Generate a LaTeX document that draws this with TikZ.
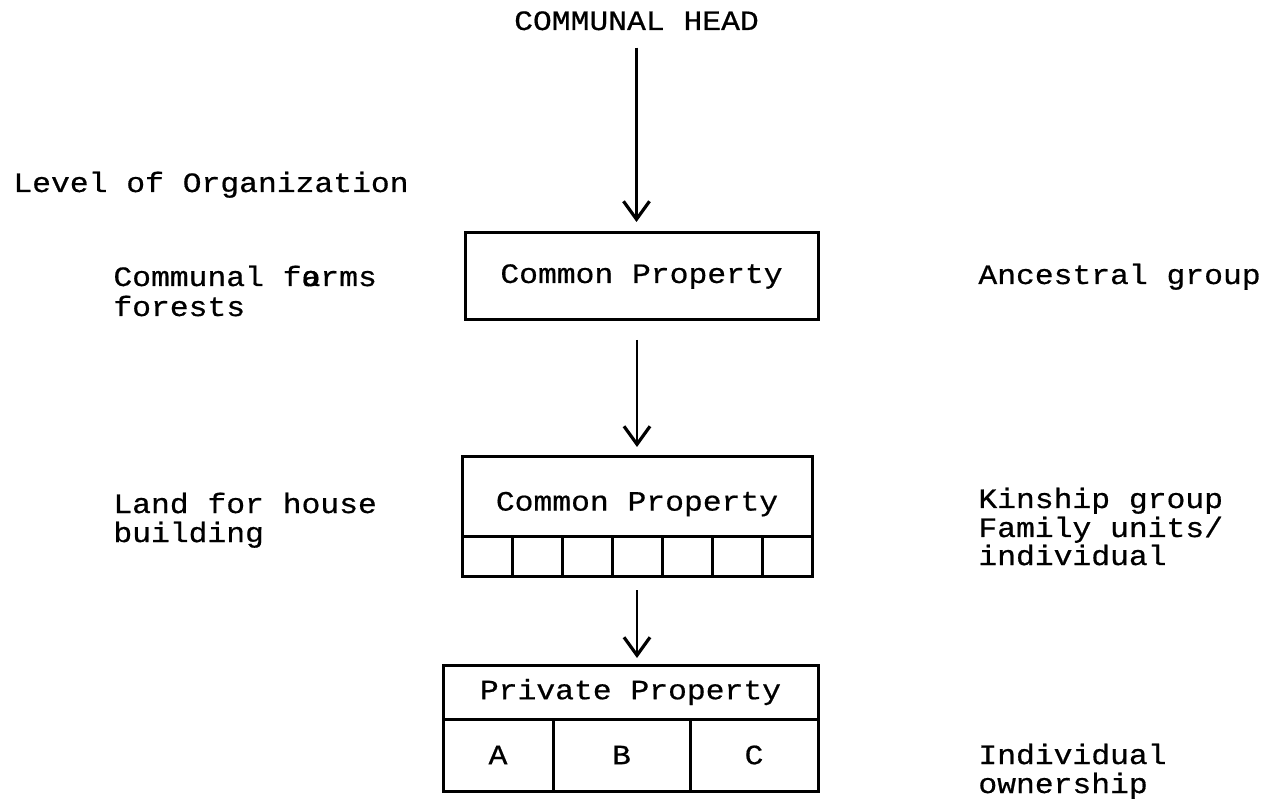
\documentclass[tikz,border=0pt]{standalone}
\usepackage{fontspec}
\setmainfont{Liberation Mono}[FakeStretch=1.12,FakeBold=0.6]
\usepackage{tikz}
\usetikzlibrary{arrows.meta}
\usetikzlibrary{positioning}

\begin{document}
\begin{tikzpicture}[x=0.5pt,y=-0.5pt,
    every node/.style={font=\fontsize{14}{14.5}\selectfont},
    lbl/.style={anchor=base west,inner sep=0pt},
    box/.style={draw,line width=1.5pt,outer sep=0pt,inner sep=0pt},
    unit/.style={box,anchor=north west,minimum width=25pt,minimum height=20pt},
    down/.style={line width=1.1pt,-{Straight Barb[length=9pt,width=13pt,line width=1.6pt]}}]
    \useasboundingbox (0,0) rectangle (1281,802);
    % Head
    \node[anchor=base,inner sep=0pt] (head) at (636.5,30) {COMMUNAL HEAD};
    % Left column
    \node[lbl] (level) at (13,192) {Level of Organization};
    \node[lbl] (farms1) at (113,286) {Communal f{\rlap{a}o}rms};
    \node[lbl] (farms2) at (113,316) {forests};
    \node[lbl] (land1) at (113,513) {Land for house};
    \node[lbl] (land2) at (113,542) {building};
    % Right column
    \node[lbl] (ancestral) at (978,284) {Ancestral group};
    \node[lbl] (kin1) at (978,508) {Kinship group};
    \node[lbl] (kin2) at (978,537) {Family units/};
    \node[lbl] (kin3) at (978,565) {individual};
    \node[lbl] (indiv1) at (978,764) {Individual};
    \node[lbl] (indiv2) at (978,793) {ownership};
    % Boxes
    \node[box,minimum width=176.5pt,minimum height=43.5pt] (prop1) at (641.5,276.5) {Common Property};
    \node[box,minimum width=175pt,minimum height=39.5pt,text height=17pt] (prop2) at (637,496.5) {Common Property};
    \foreach \i in {1,...,7}
        \node[unit,xshift={(\i-1)*25pt}] (unit\i) at (prop2.south west) {};
    \node[box,minimum width=187.5pt,minimum height=27pt] (prop3) at (630.5,692) {Private Property};
    \node[box,anchor=north west,minimum width=55pt,minimum height=36pt] (cellA) at (prop3.south west) {A};
    \node[box,anchor=north west,minimum width=68.5pt,minimum height=36pt] (cellB) at (cellA.north east) {B};
    \node[box,anchor=north west,minimum width=64pt,minimum height=36pt] (cellC) at (cellB.north east) {C};
    % Arrows
    \draw[down,shorten <=8.5pt,shorten >=5.5pt] (head.south) -- (head.south |- prop1.north);
    \draw[down,shorten <=10pt,shorten >=5pt] (prop2.north |- prop1.south) -- (prop2.north);
    \draw[down,shorten <=7pt,shorten >=3.5pt] (unit4.south) -- (unit4.south |- prop3.north);
\end{tikzpicture}
\end{document}
